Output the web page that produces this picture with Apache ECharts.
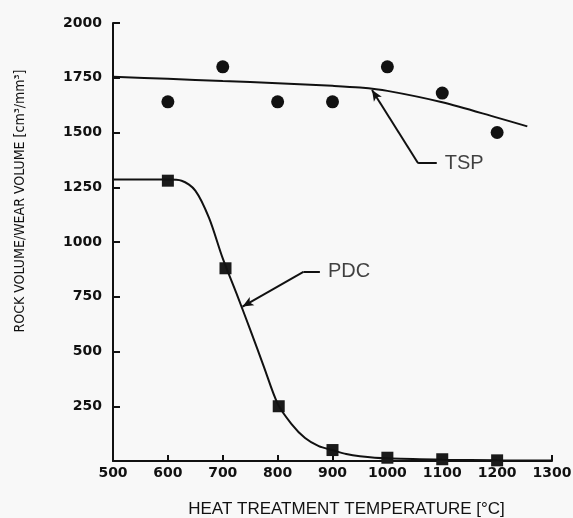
<!DOCTYPE html>
<html>
<head>
<meta charset="utf-8">
<script src="https://cdn.jsdelivr.net/npm/echarts@6/dist/echarts.min.js"></script>
<style>
  html, body { margin: 0; padding: 0; background: #f8f8f8; }
  #chart { width: 573px; height: 518px; }
</style>
</head>
<body>
<div id="chart"></div>
<script>
// measured points (as plotted)
const tspTemps = [600, 700, 800, 900, 1000, 1100, 1200]
const tspValues = [1640, 1800, 1640, 1640, 1800, 1680, 1500]
const pdcTemps = [600, 705, 802, 900, 1000, 1100, 1200]
const pdcValues = [1280, 880, 250, 50, 15, 8, 3]

// fitted curves
const tspCurveX = [500, 600, 700, 800, 900, 950, 1000, 1100, 1200, 1255]
const tspCurveY = [1755, 1745, 1735, 1725, 1713, 1705, 1690, 1638, 1568, 1528]
const pdcCurveX = [500, 600, 625, 650, 675, 700, 725, 750, 775, 800, 825, 850, 875, 900, 925, 950, 1000, 1100, 1200, 1300]
const pdcCurveY = [1285, 1285, 1280, 1235, 1110, 925, 765, 600, 430, 262, 170, 105, 68, 50, 32, 22, 12, 6, 3, 2]

// call-out leaders (data units): label end, elbow, arrow tip
const tspLeader = [[1090, 1360], [1056, 1360], [972, 1694]]
const pdcLeader = [[877, 864], [847, 864], [736, 705]]

const yTicks = [0, 2000, 250]
const xTicks = [500, 1300, 100]

const ink = '#111'
const zip = (xs, ys) => xs.map((x, i) => [x, ys[i]])

function leader(points, text) {
  return [
    {
      type: 'line',
      data: [],
      markLine: {
        silent: true,
        animation: false,
        label: { show: false },
        lineStyle: { color: ink, width: 2, type: 'solid' },
        data: [
          [{ coord: points[0], symbol: 'none' }, { coord: points[1], symbol: 'none' }],
          [{ coord: points[1], symbol: 'none' }, { coord: points[2], symbol: 'arrow', symbolSize: [7, 11] }]
        ]
      }
    },
    {
      type: 'scatter',
      symbolSize: 0,
      silent: true,
      data: [points[0]],
      label: {
        show: true,
        position: 'right',
        distance: 8,
        formatter: text,
        color: ink,
        fontFamily: 'Liberation Sans',
        fontSize: 20
      }
    }
  ]
}

let chart = echarts.init(document.getElementById('chart'))
chart.setOption({
  animation: false,
  backgroundColor: '#f8f8f8',
  grid: {
    left: 113,
    right: 21,
    top: 23,
    bottom: 57,
    outerBoundsMode: 'none'
  },
  xAxis: {
    type: 'value',
    min: xTicks[0],
    max: xTicks[1],
    interval: xTicks[2],
    name: 'HEAT TREATMENT TEMPERATURE [°C]',
    nameLocation: 'middle',
    nameGap: 40,
    nameTextStyle: {
      color: ink,
      fontFamily: 'Liberation Sans',
      fontSize: 17,
      padding: [0, 0, 0, 28]
    },
    axisLine: { lineStyle: { color: ink, width: 2 } },
    axisTick: { inside: true, length: 6, lineStyle: { color: ink, width: 2 } },
    axisLabel: {
      color: ink,
      fontFamily: 'DejaVu Sans',
      fontWeight: 'bold',
      fontSize: 14,
      margin: 5,
      formatter: v => String(v)
    },
    splitLine: { show: false }
  },
  yAxis: {
    type: 'value',
    min: yTicks[0],
    max: yTicks[1],
    interval: yTicks[2],
    axisLine: { show: true, lineStyle: { color: ink, width: 2 } },
    axisTick: { show: true, inside: true, length: 7, lineStyle: { color: ink, width: 2 } },
    axisLabel: {
      color: ink,
      fontFamily: 'DejaVu Sans',
      fontWeight: 'bold',
      fontSize: 14,
      margin: 11,
      padding: [0, 0, 8, 0],
      formatter: v => (v === 0 ? '' : String(v))
    },
    splitLine: { show: false }
  },
  graphic: [{
    type: 'text',
    x: 20,
    y: 201,
    rotation: Math.PI / 2,
    style: {
      text: 'ROCK VOLUME/WEAR VOLUME [cm³/mm³]',
      fill: ink,
      font: '14px "Liberation Sans Narrow", "DejaVu Sans Condensed", sans-serif',
      align: 'center',
      verticalAlign: 'middle'
    }
  }],
  series: [
    {
      name: 'TSP fit',
      type: 'line',
      data: zip(tspCurveX, tspCurveY),
      smooth: 0.3,
      showSymbol: false,
      lineStyle: { color: ink, width: 2 }
    },
    {
      name: 'TSP',
      type: 'scatter',
      data: zip(tspTemps, tspValues),
      symbol: 'circle',
      symbolSize: 13,
      itemStyle: { color: ink, opacity: 1 }
    },
    {
      name: 'PDC fit',
      type: 'line',
      data: zip(pdcCurveX, pdcCurveY),
      smooth: 0.3,
      showSymbol: false,
      lineStyle: { color: ink, width: 2 }
    },
    {
      name: 'PDC',
      type: 'scatter',
      data: zip(pdcTemps, pdcValues),
      symbol: 'rect',
      symbolSize: 12,
      itemStyle: { color: '#1a1a1a', opacity: 1 }
    },
    ...leader(tspLeader, 'TSP'),
    ...leader(pdcLeader, 'PDC')
  ]
})
</script>
</body>
</html>
